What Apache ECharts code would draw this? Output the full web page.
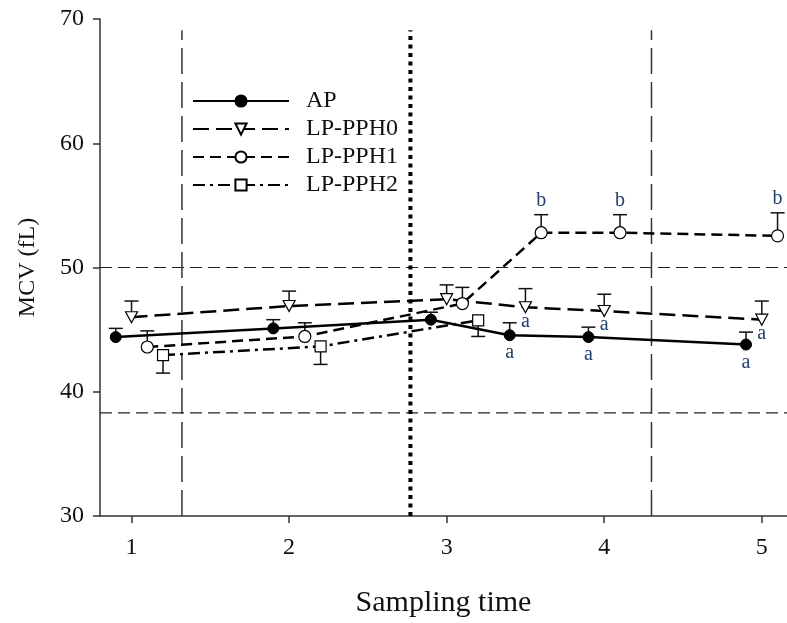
<!DOCTYPE html>
<html>
<head>
<meta charset="utf-8">
<script src="https://cdn.jsdelivr.net/npm/echarts@6/dist/echarts.min.js"></script>
<style>html,body{margin:0;padding:0;background:#fff;}#c{width:787px;height:623px;}</style>
</head>
<body>
<div id="c"></div>
<script>
// ---- data ----
const times = [1, 2, 3, 3.5, 4, 5];
const timesPPH2 = [1, 2, 3];
const xTicks = [1, 2, 3, 4, 5];
const apMean = [44.4, 45.1, 45.8, 44.55, 44.4, 43.8];
const apSE = [0.7, 0.7, 0.6, 1.0, 0.8, 1.0];
const pph0Mean = [46.0, 46.9, 47.45, 46.8, 46.5, 45.8];
const pph0SE = [1.3, 1.2, 1.15, 1.5, 1.35, 1.5];
const pph1Mean = [43.6, 44.45, 47.1, 52.8, 52.8, 52.55];
const pph1SE = [1.3, 1.1, 1.3, 1.45, 1.45, 1.85];
const pph2Mean = [42.95, 43.65, 45.75];
const pph2SE = [1.45, 1.45, 1.3];
const sigAP = ['', '', '', 'a', 'a', 'a'];
const sigPPH0 = ['', '', '', 'a', 'a', 'a'];
const sigPPH1 = ['', '', '', 'b', 'b', 'b'];
const refY = [50, 38.3];
const refX = [1.32, 4.3];
const splitX = 2.77;
const seriesNames = ['AP', 'LP-PPH0', 'LP-PPH1', 'LP-PPH2'];

// ---- helpers ----
const FONT = 'Liberation Serif';
const dodge = { 'AP': -0.1, 'LP-PPH0': 0, 'LP-PPH1': 0.1, 'LP-PPH2': 0.2 };
function pts(ts, vals, name) { return ts.map((t, i) => [t + dodge[name], vals[i]]); }
function errPts(ts, vals, se, name, dir) { return ts.map((t, i) => [t + dodge[name], vals[i], dir * se[i]]); }

function errRender(params, api) {
  const x = api.value(0), y = api.value(1), e = api.value(2);
  const p0 = api.coord([x, y]);
  const p1 = api.coord([x, y + e]);
  const st = { stroke: '#111', lineWidth: 1.5 };
  return { type: 'group', children: [
    { type: 'line', shape: { x1: p0[0], y1: p0[1], x2: p1[0], y2: p1[1] }, style: st },
    { type: 'line', shape: { x1: p1[0] - 7, y1: p1[1], x2: p1[0] + 7, y2: p1[1] }, style: st }
  ]};
}
function errSeries(data) {
  return { type: 'custom', renderItem: errRender, data: data, encode: { x: 0, y: 1 }, z: 2, silent: true };
}
function sigSeries(data, labels, mode, shift) {
  return {
    type: 'custom', z: 5, silent: true, data: data, encode: { x: 0, y: 1 },
    renderItem: function (params, api) {
      const txt = labels[params.dataIndex];
      if (!txt) return null;
      const x = api.value(0), y = api.value(1), e = api.value(2);
      const p = api.coord([x, mode === 'above' ? y + e : y]);
      return { type: 'text', x: p[0], y: p[1] + shift,
        style: { text: txt, fontFamily: FONT, fontSize: 20, fill: '#23406e', align: 'center', verticalAlign: 'middle' } };
    }
  };
}
function refLine(data, type, width, color) {
  return { type: 'line', data: data, symbol: 'none', silent: true, z: 1,
    lineStyle: { color: color || '#333', width: width, type: type } };
}

const chart = echarts.init(document.getElementById('c'), null, { renderer: 'canvas' });
const option = {
  animation: false,
  backgroundColor: '#fff',
  grid: { left: 100, right: 0, top: 19, bottom: 106 },
  legend: {
    data: seriesNames, orient: 'vertical', left: 187, top: 84,
    itemWidth: 96, itemHeight: 14, itemGap: 4,
    textStyle: { fontFamily: FONT, fontSize: 24, color: '#111', lineHeight: 23, padding: [0, 0, 0, 12] }
  },
  xAxis: {
    type: 'value', min: 0.8, max: 5.16,
    name: 'Sampling time', nameLocation: 'middle', nameGap: 72,
    nameTextStyle: { fontFamily: FONT, fontSize: 30, color: '#111' },
    axisLine: { show: true, onZero: false, lineStyle: { color: '#333', width: 1.5 } },
    axisTick: { show: true, length: 7, customValues: xTicks, lineStyle: { color: '#333', width: 1.5 } },
    axisLabel: { customValues: xTicks, fontFamily: FONT, fontSize: 24, color: '#111', margin: 20 },
    splitLine: { show: false }
  },
  yAxis: {
    type: 'value', min: 30, max: 70, interval: 10,
    name: 'MCV (fL)', nameLocation: 'middle', nameGap: 60,
    nameTextStyle: { fontFamily: FONT, fontSize: 24, color: '#111' },
    axisLine: { show: true, lineStyle: { color: '#333', width: 1.5 } },
    axisTick: { show: true, length: 7, lineStyle: { color: '#333', width: 1.5 } },
    axisLabel: { fontFamily: FONT, fontSize: 24, color: '#111', margin: 16 },
    splitLine: { show: false }
  },
  series: [
    refLine([[0.8, refY[0]], [5.16, refY[0]]], [12, 6], 1.2, '#222'),
    refLine([[0.8, refY[1]], [5.16, refY[1]]], [12, 6], 1.2, '#222'),
    refLine([[refX[0], 30], [refX[0], 69.1]], [26, 8], 1.5),
    refLine([[refX[1], 30], [refX[1], 69.1]], [26, 8], 1.5),
    refLine([[splitX, 30], [splitX, 69.1]], [4, 4.5], 4, '#000'),
    errSeries(errPts(times, apMean, apSE, 'AP', 1)),
    errSeries(errPts(times, pph0Mean, pph0SE, 'LP-PPH0', 1)),
    errSeries(errPts(times, pph1Mean, pph1SE, 'LP-PPH1', 1)),
    errSeries(errPts(timesPPH2, pph2Mean, pph2SE, 'LP-PPH2', -1)),
    { name: 'AP', type: 'line', data: pts(times, apMean, 'AP'), z: 4,
      symbol: 'circle', symbolSize: 11,
      lineStyle: { color: '#000', width: 2.5, type: 'solid' },
      itemStyle: { color: '#000', borderColor: '#000', borderWidth: 1 } },
    { name: 'LP-PPH0', type: 'line', data: pts(times, pph0Mean, 'LP-PPH0'), z: 4,
      symbol: 'triangle', symbolRotate: 180, symbolSize: [12, 11],
      lineStyle: { color: '#000', width: 2.5, type: [16, 7] },
      itemStyle: { color: '#fff', borderColor: '#000', borderWidth: 1.2 } },
    { name: 'LP-PPH1', type: 'line', data: pts(times, pph1Mean, 'LP-PPH1'), z: 4,
      symbol: 'circle', symbolSize: 12,
      lineStyle: { color: '#000', width: 2.5, type: [11, 6] },
      itemStyle: { color: '#fff', borderColor: '#000', borderWidth: 1.2 } },
    { name: 'LP-PPH2', type: 'line', data: pts(timesPPH2, pph2Mean, 'LP-PPH2'), z: 4,
      symbol: 'rect', symbolSize: 11,
      lineStyle: { color: '#000', width: 2.5, type: [12, 5, 3, 5] },
      itemStyle: { color: '#fff', borderColor: '#000', borderWidth: 1.2 } },
    sigSeries(errPts(times, apMean, apSE, 'AP', 1), sigAP, 'below', 18),
    sigSeries(errPts(times, pph0Mean, pph0SE, 'LP-PPH0', 1), sigPPH0, 'below', 14),
    sigSeries(errPts(times, pph1Mean, pph1SE, 'LP-PPH1', 1), sigPPH1, 'above', -14)
  ]
};
chart.setOption(option);
</script>
</body>
</html>
